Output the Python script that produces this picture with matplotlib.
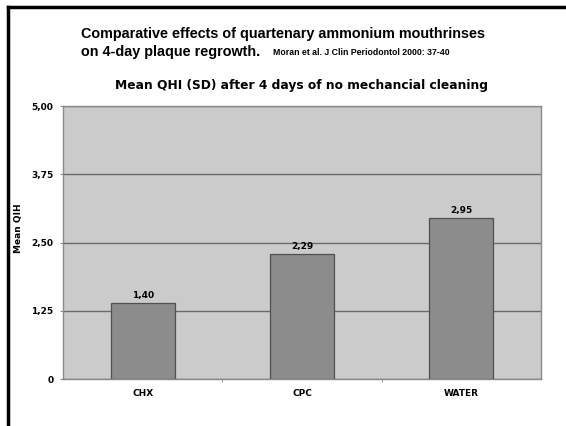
import matplotlib.pyplot as plt
from matplotlib.lines import Line2D

categories = ['CHX', 'CPC', 'WATER']
mean_qhi = [1.40, 2.29, 2.95]
y_ticks = [0, 1.25, 2.50, 3.75, 5.00]
y_tick_labels = ['0', '1,25', '2,50', '3,75', '5,00']

fig = plt.figure(figsize=(5.66, 4.26), dpi=100)
fig.patch.set_facecolor('white')

# black slide frame on top and left
fig.add_artist(Line2D([0.0139, 1.0], [0.9824, 0.9824], color='black', lw=2.5,
                      transform=fig.transFigure))
fig.add_artist(Line2D([0.0139, 0.0139], [0.0, 0.9824], color='black', lw=2.5,
                      transform=fig.transFigure))

fig.text(0.143, 0.921, 'Comparative effects of quartenary ammonium mouthrinses',
         family='Liberation Sans', fontweight='bold', fontsize=10.35, va='center')
fig.text(0.143, 0.878, 'on 4-day plaque regrowth.', family='Liberation Sans',
         fontweight='bold', fontsize=10.35, va='center')
fig.text(0.482, 0.876, 'Moran et al. J Clin Periodontol 2000: 37-40',
         family='Liberation Sans', fontweight='bold', fontsize=6.3, va='center')

ax = fig.add_axes([0.1113, 0.1103, 0.8445, 0.6408])
ax.set_facecolor('#cbcbcb')
x = range(len(categories))
bars = ax.bar(x, mean_qhi, width=0.4, color='#8c8c8c', edgecolor='#505050',
              linewidth=0.9, zorder=3)
for b, v in zip(bars, mean_qhi):
    ax.text(b.get_x() + b.get_width() / 2, v + 0.05, f'{v:.2f}'.replace('.', ','),
            ha='center', va='bottom', fontsize=6.5, fontweight='bold', zorder=4)

ax.set_xlim(-0.5, 2.5)
ax.set_ylim(0, 5)
ax.set_yticks(y_ticks)
ax.set_yticklabels(y_tick_labels)
ax.yaxis.grid(True, color='#6a6a6a', linewidth=1.0, zorder=1)
ax.set_xticks(list(x))
ax.set_xticklabels(categories)
ax.set_xticks([0.5, 1.5], minor=True)
ax.tick_params(axis='x', which='major', length=0, pad=7)
ax.tick_params(axis='x', which='minor', length=2, color='#888888')
ax.tick_params(axis='y', length=2, color='#888888', pad=5)
for lbl in ax.get_xticklabels() + ax.get_yticklabels():
    lbl.set_fontweight('bold')
    lbl.set_fontsize(6.5)
for s in ax.spines.values():
    s.set_color('#8a8a8a')
    s.set_linewidth(1.0)

ax.set_ylabel('Mean QIH', fontsize=6.5, fontweight='bold')
ax.yaxis.set_label_coords(-0.084, 0.553)
ax.set_title('Mean QHI (SD) after 4 days of no mechancial cleaning',
             fontsize=8.85, fontweight='bold', pad=12)

fig.savefig('out.png', dpi=100)
